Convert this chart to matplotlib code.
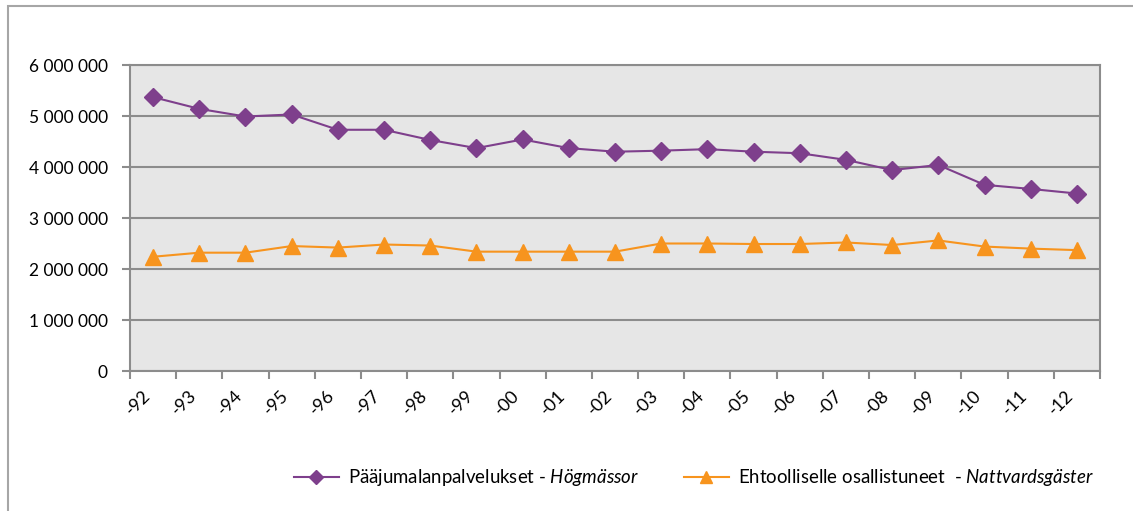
import numpy as np
import matplotlib
matplotlib.use('Agg')
from matplotlib import pyplot as plt
from matplotlib.patches import Rectangle

plt.rcParams['font.family'] = ['Lato', 'DejaVu Sans']
plt.rcParams['mathtext.fontset'] = 'custom'
plt.rcParams['mathtext.rm'] = 'Lato'
plt.rcParams['mathtext.it'] = 'Lato:italic'

years = ['-92', '-93', '-94', '-95', '-96', '-97', '-98', '-99', '-00', '-01', '-02',
         '-03', '-04', '-05', '-06', '-07', '-08', '-09', '-10', '-11', '-12']

# Pääjumalanpalvelukset - Högmässor
hogmassor = [5370000, 5140000, 4990000, 5030000, 4730000, 4730000, 4530000, 4370000,
             4540000, 4370000, 4300000, 4320000, 4350000, 4300000, 4270000, 4140000,
             3940000, 4040000, 3650000, 3570000, 3480000]

# Ehtoolliselle osallistuneet - Nattvardsgäster
nattvard = [2240000, 2320000, 2320000, 2450000, 2420000, 2480000, 2460000, 2340000,
            2340000, 2340000, 2340000, 2500000, 2500000, 2490000, 2490000, 2520000,
            2470000, 2560000, 2440000, 2400000, 2370000]

yticks = [0, 1000000, 2000000, 3000000, 4000000, 5000000, 6000000]

purple = '#7E3F8C'
orange = '#F7941E'
grid_c = '#8C8C8C'

fig = plt.figure(figsize=(11.33, 5.11), dpi=100)
ax = fig.add_axes([130 / 1133, 140 / 511, 970 / 1133, 306 / 511])
ax.set_facecolor('#E6E6E6')

x = np.arange(len(years))
ax.plot(x, hogmassor, color=purple, lw=1.5, marker='D', ms=9, mec=purple, mfc=purple,
        label='Pääjumalanpalvelukset - $\\it{Högmässor}$', zorder=3)
ax.plot(x, nattvard, color=orange, lw=1.5, marker='^', ms=12, mec=orange, mfc=orange,
        label='Ehtoolliselle osallistuneet  - $\\it{Nattvardsgäster}$', zorder=3)

ax.set_xlim(-0.5, len(years) - 0.5)
ax.set_ylim(0, 6000000)
ax.set_yticks(yticks)
ax.set_yticklabels(['{:,}'.format(v).replace(',', ' ') for v in yticks])
ax.yaxis.grid(True, color=grid_c, lw=1.5)
ax.set_axisbelow(True)

ax.set_xticks(x)
ax.set_xticklabels(years, rotation=45, ha='right')
ax.set_xticks(np.arange(-0.5, len(years)), minor=True)
ax.tick_params(axis='x', which='major', length=0, pad=12, labelsize=13)
ax.tick_params(axis='x', which='minor', length=6, color=grid_c, width=1.5)
ax.tick_params(axis='y', length=6, color=grid_c, width=1.5, pad=10, labelsize=12.5)
for s in ax.spines.values():
    s.set_color(grid_c)
    s.set_linewidth(1.5)

fig.legend(loc='center', bbox_to_anchor=(0.6125, 1 - 478 / 511), ncol=2, frameon=False,
           fontsize=13.4, handlelength=2.4, columnspacing=2.4, handletextpad=0.5,
           markerscale=0.75)

# outer chart border
fig.patches.append(Rectangle((8 / 1133, -0.2), 1.2, 1.2 - 6 / 511, fill=False,
                             edgecolor='#A6A6A6', lw=1.5, transform=fig.transFigure))

fig.savefig('out.png', dpi=100)
